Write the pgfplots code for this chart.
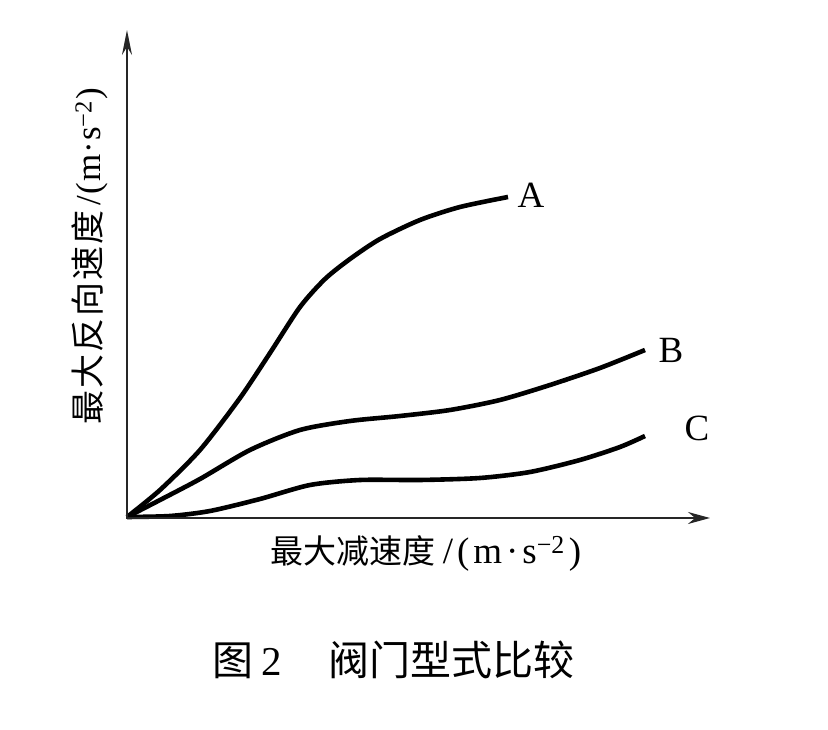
\documentclass[border=0pt]{standalone}
\usepackage{fontspec}
\setmainfont{Liberation Serif}
\newfontfamily\cjk{Noto Sans CJK SC}
\usepackage{pgfplots}
\pgfplotsset{compat=1.18}
\usetikzlibrary{arrows.meta}

\tikzset{
  crv/.style={black, no markers, smooth, tension=0.45, line width=4.6pt},
  lbl/.style={font=\fontsize{37}{40}\selectfont},
}
\newcommand{\unitx}[1]{/\hspace{#1}(\hspace{#1}m\hspace{#1}·\hspace{#1}s\textsuperscript{−2}\hspace{#1})}

\begin{document}
\begin{tikzpicture}
\useasboundingbox (-127pt,-213pt) rectangle (701pt,517pt);
\begin{axis}[
  width=583pt, height=487pt, scale only axis,
  xmin=0, xmax=583, ymin=0, ymax=487,
  axis lines=none, clip=false,
]
% curve A
\addplot[crv] coordinates {(0,0) (33,27) (73,67) (113,119) (143,164) (173,210) (198,238)
  (223,258) (253,278) (293,297) (333,310) (381,320)};
% curve B
\addplot[crv] coordinates {(0,0) (33,17) (73,38) (123,67) (173,87) (223,96) (273,101)
  (323,107) (373,117) (423,132) (473,149) (518,167)};
% curve C
\addplot[crv] coordinates {(0,0) (43,1) (83,6) (133,18) (183,32) (233,37) (293,37)
  (353,39) (403,45) (453,57) (493,70) (518,81)};

\draw[line width=1.8pt, black!85, -{Stealth[length=22pt, width=12pt]}] (axis cs:0,-1) -- (axis cs:583,-1);
\draw[line width=1.8pt, black!85, -{Stealth[length=25pt, width=10pt]}] (axis cs:0,-2) -- (axis cs:0,487);

\node[lbl] at (axis cs:404,322) {A};
\node[lbl] at (axis cs:544,167) {B};
\node[lbl] at (axis cs:570,89) {C};

\node at (axis cs:299,-36)
  {{\fontsize{33}{36}\selectfont\cjk 最大减速度}\hspace{7pt}{\fontsize{37}{40}\selectfont\unitx{4pt}}};
\node[rotate=90] at (axis cs:-37,261)
  {{\fontsize{34}{36}\selectfont\cjk 最\hspace{2pt}大\hspace{2pt}反\hspace{2pt}向\hspace{2pt}速\hspace{2pt}度}\hspace{5pt}{\fontsize{35}{38}\selectfont\unitx{1pt}}};
\node[font=\fontsize{41}{44}\selectfont, anchor=west] at (axis cs:82,-143)
  {{\cjk 图}\hspace{8pt}2\hspace{46pt}{\cjk 阀门型式比较}};
\end{axis}
\end{tikzpicture}
\end{document}
